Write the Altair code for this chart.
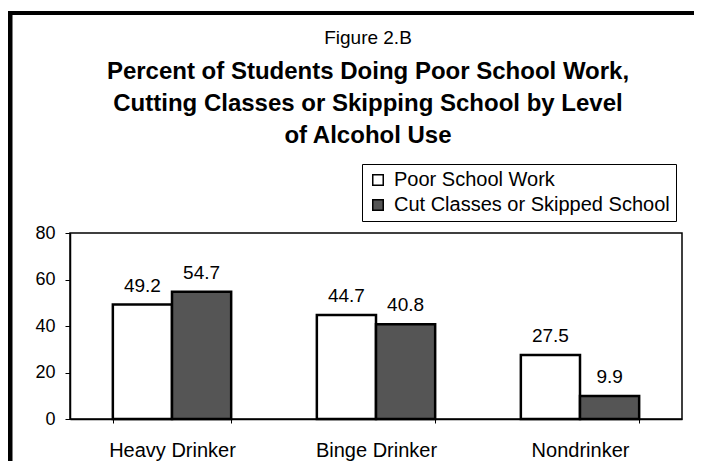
import altair as alt
import pandas as pd

categories = ["Heavy Drinker", "Binge Drinker", "Nondrinker"]
series = ["Poor School Work", "Cut Classes or Skipped School"]
poor_school_work = [49.2, 44.7, 27.5]
cut_classes = [54.7, 40.8, 9.9]
y_ticks = [0, 20, 40, 60, 80]
fill_colors = ["white", "#555555"]

rows = []
for i, c in enumerate(categories):
    rows.append({"level": c, "series": series[0], "value": poor_school_work[i]})
    rows.append({"level": c, "series": series[1], "value": cut_classes[i]})
df = pd.DataFrame(rows)

FONT = "Liberation Sans"

x = alt.X(
    "level:N", sort=categories,
    scale=alt.Scale(paddingInner=0.42, paddingOuter=0.21),
    axis=alt.Axis(title=None, labelAngle=0, labelFontSize=20, labelFont=FONT,
                  labelColor="black", labelPadding=17, tickBand="extent",
                  tickSize=4, tickColor="black", domainColor="black",
                  domainWidth=1.5),
)
xo = alt.XOffset("series:N", sort=series,
                 scale=alt.Scale(domain=series, paddingInner=0, paddingOuter=0))
y = alt.Y(
    "value:Q", scale=alt.Scale(domain=[0, 80]),
    axis=alt.Axis(values=y_ticks, title=None, grid=False, labelFontSize=18,
                  labelFont=FONT, labelColor="black", tickSize=5,
                  labelPadding=10, tickColor="black", domainColor="black",
                  domainWidth=1.5),
)

bars = alt.Chart(df).mark_bar(stroke="black", strokeWidth=2.5).encode(
    x=x, xOffset=xo, y=y,
    fill=alt.Fill(
        "series:N", sort=series,
        scale=alt.Scale(domain=series, range=fill_colors),
        legend=alt.Legend(orient="none", legendX=292, legendY=-69, title=None,
                          padding=6, strokeColor="black", fillColor="white",
                          symbolType="square", symbolSize=110,
                          symbolStrokeColor="black", symbolStrokeWidth=1.5,
                          labelFontSize=20, labelFont=FONT, labelColor="black",
                          labelLimit=500, rowPadding=5, labelOffset=6),
    ),
)

labels = alt.Chart(df).mark_text(
    baseline="alphabetic", dy=-13, fontSize=19, font=FONT, color="black"
).encode(x=x, xOffset=xo, y=y, text=alt.Text("value:Q", format=".1f"))

border = alt.Data(values=[{"k": 0}])
left_rule = alt.Chart(border).mark_rule(color="black", strokeWidth=5).encode(
    x=alt.value(-60), y=alt.value(-220), y2=alt.value(240))
top_rule = alt.Chart(border).mark_rule(color="black", strokeWidth=4).encode(
    x=alt.value(-62), x2=alt.value(624), y=alt.value(-220))

chart = alt.layer(left_rule, top_rule, bars, labels).properties(
    width=612, height=186,
    autosize=alt.AutoSizeParams(type="none"),
    padding={"left": 62, "top": 225, "right": 12, "bottom": 42},
    background="white",
    title=alt.Title(
        text="Figure 2.B",
        subtitle=["Percent of Students Doing Poor School Work,",
                  "Cutting Classes or Skipping School by Level",
                  "of Alcohol Use"],
        anchor="middle", frame="group", dx=-8, offset=-137,
        font=FONT, fontSize=19, fontWeight="normal", color="black",
        subtitleFont=FONT, subtitleFontSize=24, subtitleFontWeight="bold",
        subtitleColor="black", subtitleLineHeight=32, subtitlePadding=12,
    ),
).configure_view(stroke="black", strokeWidth=1.5)

chart.save("out.html", embed_options={"renderer": "svg", "actions": False})
